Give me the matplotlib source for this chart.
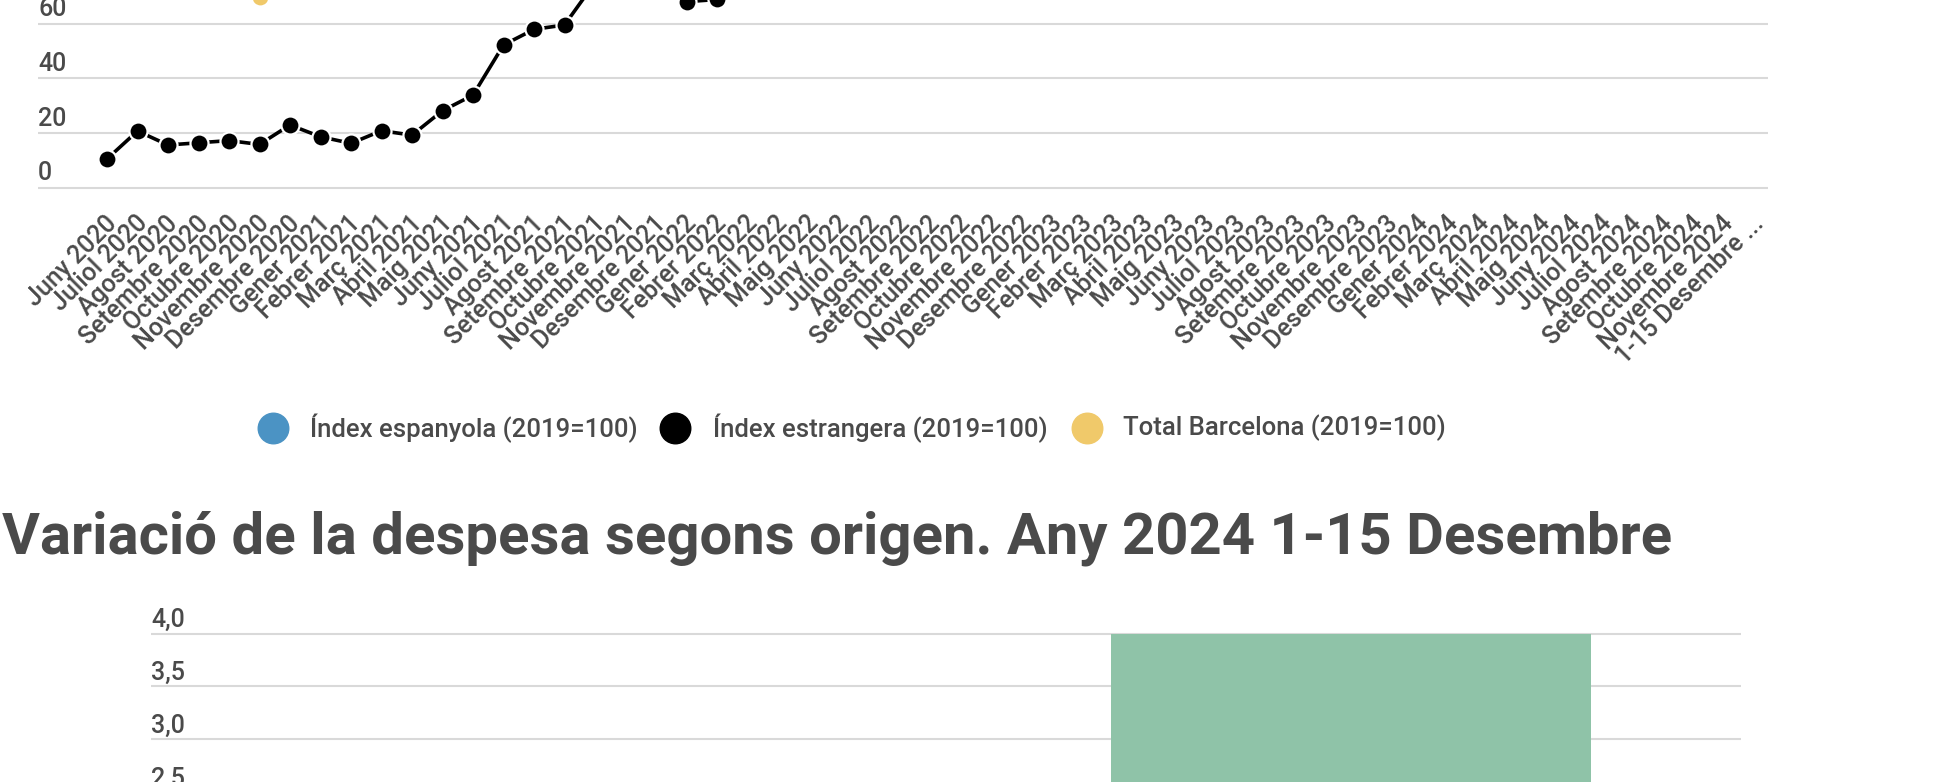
import matplotlib
matplotlib.use("Agg")
import matplotlib.pyplot as plt
import matplotlib.transforms as mtransforms
from matplotlib.lines import Line2D

plt.rcParams['font.family'] = ['Roboto', 'DejaVu Sans']

W, H = 1959, 782
TEXT = '#4a4a4a'
GRID = '#d9d9d9'

# --- data, top chart ---
month_names = ['Gener', 'Febrer', 'Març', 'Abril', 'Maig', 'Juny', 'Juliol',
               'Agost', 'Setembre', 'Octubre', 'Novembre', 'Desembre']
months = []
for year in range(2020, 2025):
    for m in month_names:
        months.append(f'{m} {year}')
months = months[5:-1] + ['1-15 Desembre ...']   # Juny 2020 .. Novembre 2024 + 1-15 Desembre

idx_espanyola = [78, 95, 98, 92, 88, 80, 96, 82, 86, 92, 90, 98, 104, 112, 110,
                 108, 112, 115, 118, 100, 104, 112, 116, 118, 120, 122, 118, 115,
                 114, 110, 120, 104, 108, 112, 115, 118, 120, 118, 114, 113, 112,
                 110, 122, 106, 110, 114, 116, 118, 120, 118, 114, 116, 114, 112, 124]
idx_estrangera = [10.6, 20.8, 15.7, 16.5, 17.3, 15.9, 23.0, 18.7, 16.3, 20.9, 19.3,
                  28.2, 33.9, 52.2, 57.9, 59.5, 75, 80, 79, 68.0, 68.8, 82, 90, 95,
                  102, 110, 112, 105, 100, 92, 90, 80, 85, 95, 105, 108, 112, 118,
                  120, 112, 108, 98, 95, 86, 90, 102, 110, 114, 118, 124, 126, 118,
                  114, 104, 96]
total_bcn = [74, 80, 78, 76, 75, 69.7, 80, 73, 74, 78, 76, 82, 88, 95, 96, 95, 100,
             104, 105, 90, 93, 100, 106, 110, 114, 118, 115, 110, 108, 102, 106, 94,
             98, 104, 110, 113, 116, 119, 117, 112, 111, 105, 110, 98, 102, 109, 113,
             116, 119, 121, 119, 115, 115, 108, 112]

series_names = ['Índex espanyola (2019=100)', 'Índex estrangera (2019=100)',
                'Total Barcelona (2019=100)']
series_colors = ['#4b93c4', '#000000', '#f0c96a']
top_yticks = [0, 20, 40, 60]

# --- data, bottom chart ---
title = 'Variació de la despesa segons origen. Any 2024 1-15 Desembre'
origins = ['Espanyola', 'Estrangera']
variation = [1.5, 4.0]
bottom_yticks = [2.5, 3.0, 3.5, 4.0]

fig = plt.figure(figsize=(W / 100, H / 100), dpi=100)

# ---------------- top line chart ----------------
px_per_unit = 2.74
ax1 = fig.add_axes([38 / W, 1 - 200 / H, 1730 / W, 200 / H])
for s in ax1.spines.values():
    s.set_visible(False)

x = list(range(len(months)))
for vals, col in zip([idx_espanyola, idx_estrangera, total_bcn], series_colors):
    ax1.plot(x, vals, color=col, lw=2.6, marker='o', markersize=13,
             markerfacecolor=col, markeredgecolor='white', markeredgewidth=1.6,
             clip_on=True, zorder=3)

ax1.set_yticks(top_yticks)
ax1.set_yticklabels([])
ax1.set_xlim((38 - 107) / 30.5, (1768 - 107) / 30.5)
ax1.set_ylim(-12 / px_per_unit, 188 / px_per_unit)
ax1.grid(axis='y', color=GRID, lw=1.5)
ax1.set_axisbelow(True)
ax1.tick_params(axis='y', length=0)
for v in top_yticks:
    ax1.annotate(str(v), (0, v), xycoords=('axes fraction', 'data'),
                 xytext=(0, 5.5), textcoords='offset points', ha='left',
                 va='baseline', fontsize=18, fontweight='medium', color=TEXT,
                 annotation_clip=False)

ax1.set_xticks(x)
ax1.set_xticklabels(months, rotation=45, ha='right', va='center',
                    rotation_mode='anchor', fontsize=18, fontweight='medium',
                    color=TEXT)
ax1.tick_params(axis='x', length=0, pad=12)
shift = mtransforms.ScaledTranslation(6 / 100, -3 / 100, fig.dpi_scale_trans)
for lbl in ax1.get_xticklabels():
    lbl.set_transform(lbl.get_transform() + shift)

# ---------------- legend ----------------
legend_marker_x = [273, 675, 1087]
legend_text_x = [310, 713, 1123]
legend_y = 1 - 428 / H
for mx, tx, name, col in zip(legend_marker_x, legend_text_x, series_names, series_colors):
    fig.add_artist(Line2D([mx / W], [legend_y], transform=fig.transFigure,
                          marker='o', markersize=22, color=col, linestyle='none'))
    fig.text(tx / W, legend_y, name, ha='left', va='center', fontsize=18.5,
             fontweight='medium', color=TEXT)

# ---------------- title ----------------
fig.text(2 / W, 1 - 554 / H, title, ha='left', va='baseline', fontsize=41.8,
         fontweight='bold', color=TEXT)

# ---------------- bottom bar chart ----------------
bpx = 105.8
ax2 = fig.add_axes([151 / W, 0, 1590 / W, (782 - 620) / H])
for s in ax2.spines.values():
    s.set_visible(False)
ax2.bar(range(len(origins)), variation, width=0.6, color='#8fc3a8', zorder=3)
ax2.set_yticks(bottom_yticks)
ax2.set_yticklabels([])
ax2.set_xticks([])
ax2.set_ylim(4.0 - 148.5 / bpx, 4.0 + 13.5 / bpx)
ax2.set_xlim(-0.5, 1.4875)
ax2.grid(axis='y', color=GRID, lw=1.5)
ax2.set_axisbelow(True)
ax2.tick_params(axis='y', length=0)
for v in bottom_yticks:
    ax2.annotate(f'{v:.1f}'.replace('.', ','), (0, v),
                 xycoords=('axes fraction', 'data'), xytext=(0, 4.7),
                 textcoords='offset points', ha='left', va='baseline',
                 fontsize=18, fontweight='medium', color=TEXT,
                 annotation_clip=False)

fig.savefig('out.png', dpi=100)
